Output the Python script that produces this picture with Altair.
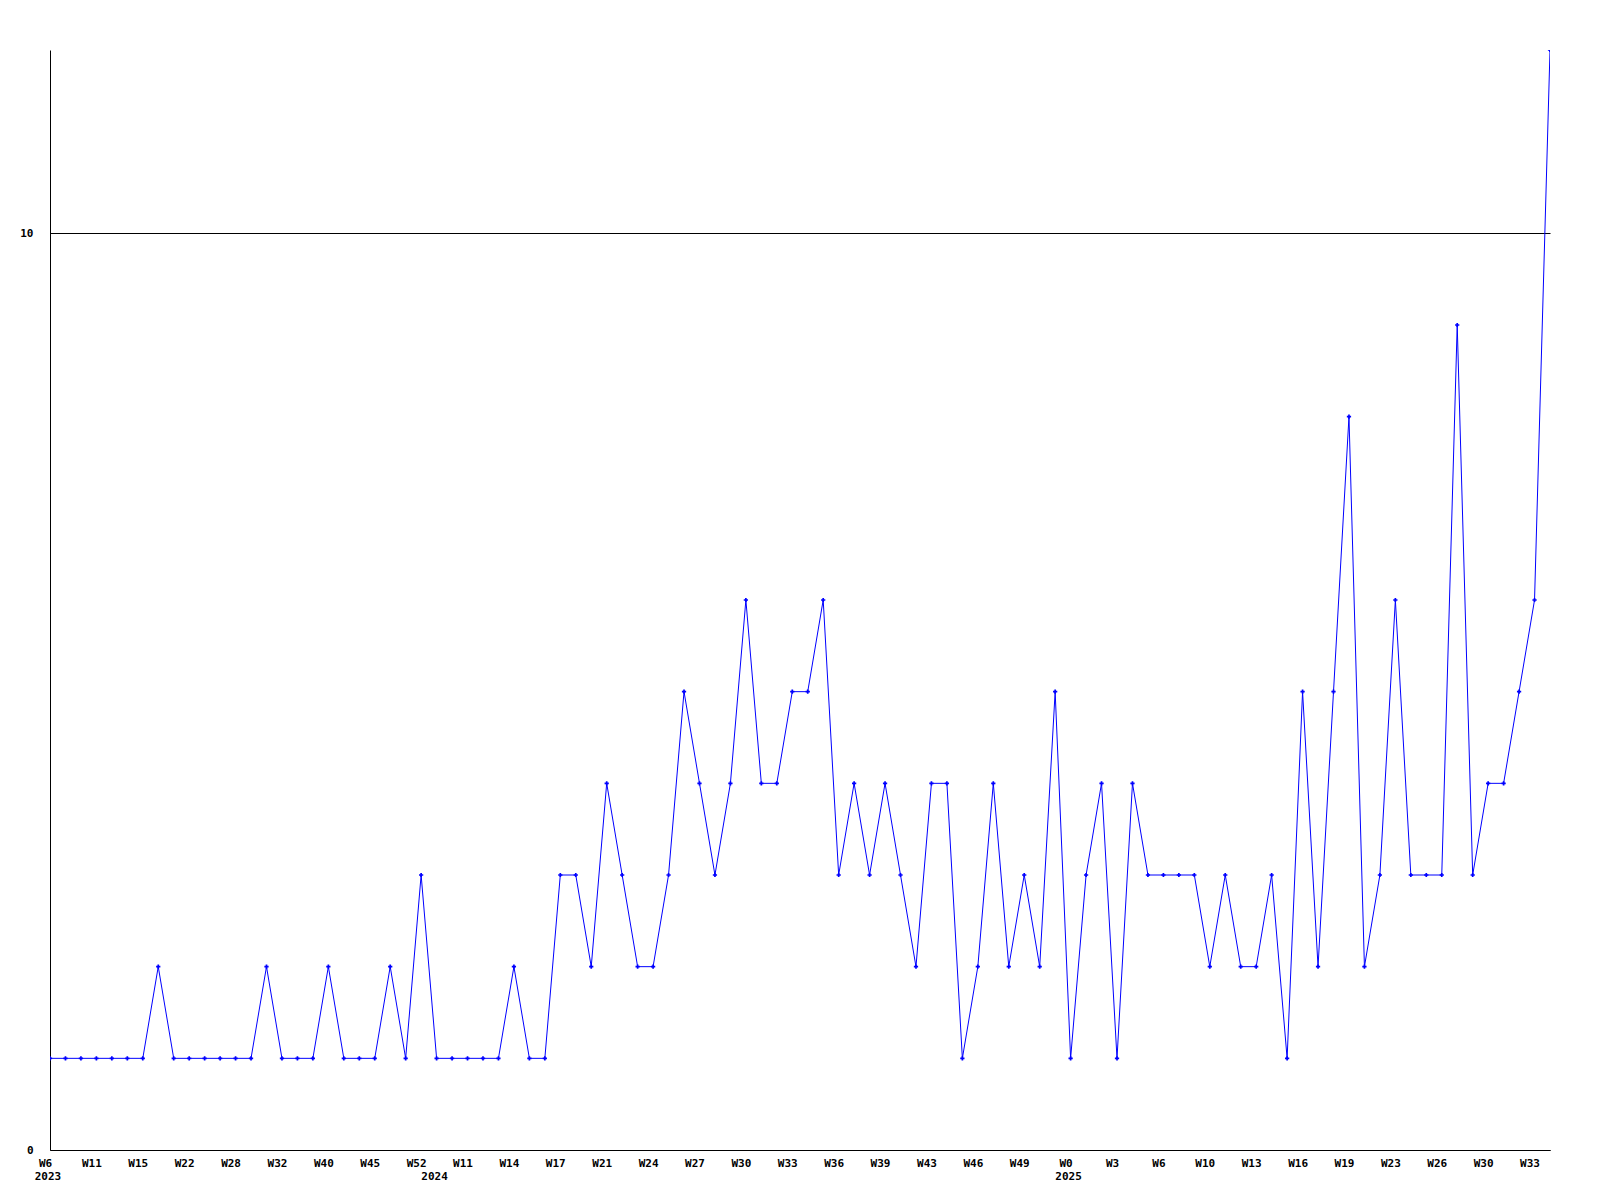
import altair as alt
import pandas as pd

values = [1, 1, 1, 1, 1, 1, 1, 2, 1, 1, 1, 1, 1, 1, 2, 1, 1, 1, 2, 1,
          1, 1, 2, 1, 3, 1, 1, 1, 1, 1, 2, 1, 1, 3, 3, 2, 4, 3, 2, 2,
          3, 5, 4, 3, 4, 6, 4, 4, 5, 5, 6, 3, 4, 3, 4, 3, 2, 4, 4, 1,
          2, 4, 2, 3, 2, 5, 1, 3, 4, 1, 4, 3, 3, 3, 3, 2, 3, 2, 2, 3,
          1, 5, 2, 5, 8, 2, 3, 6, 3, 3, 3, 9, 3, 4, 4, 5, 6, 12]

week_labels = ["W6", "W11", "W15", "W22", "W28", "W32", "W40", "W45", "W52",
               "W11", "W14", "W17", "W21", "W24", "W27", "W30", "W33", "W36",
               "W39", "W43", "W46", "W49", "W0", "W3", "W6", "W10", "W13",
               "W16", "W19", "W23", "W26", "W30", "W33"]
label_step = 3

year_labels = ["2023", "2024", "2025"]
year_index = [0, 25, 66]

W, H = 1500, 1100

df = pd.DataFrame({"i": list(range(len(values))), "v": values})
years = pd.DataFrame({"i": year_index, "t": year_labels})

tick_vals = [k * label_step for k in range(len(week_labels))]
lab_map = "{" + ",".join(f"'{t}':'{l}'" for t, l in zip(tick_vals, week_labels)) + "}"

font = "DejaVu Sans Mono"

xscale = alt.Scale(domain=[0, len(values) - 1], nice=False, zero=False, padding=0)
yscale = alt.Scale(domain=[0, 12], nice=False)

base = alt.Chart(df).encode(
    x=alt.X("i:Q", scale=xscale,
            axis=alt.Axis(values=tick_vals, labelExpr=f"{lab_map}[''+datum.value]",
                          title=None, ticks=False, tickSize=0, grid=False,
                          labelPadding=7, labelOffset=-5, labelOverlap=False,
                          labelFlush=False, domainColor="black",
                          labelFont=font, labelFontWeight="bold", labelFontSize=11,
                          labelColor="black")),
    y=alt.Y("v:Q", scale=yscale,
            axis=alt.Axis(values=[0, 10], title=None, ticks=False, tickSize=0,
                          grid=True, gridColor="black", gridOpacity=1, gridWidth=1,
                          labelPadding=17, domainColor="black",
                          labelFont=font, labelFontWeight="bold", labelFontSize=11,
                          labelColor="black")),
)

line = base.mark_line(color="#0000ff", strokeWidth=1, clip=True)
pts = base.mark_point(shape="cross", filled=True, size=18, color="#0000ff",
                      opacity=1, clip=True)

yrs = alt.Chart(years).mark_text(
    font=font, fontWeight="bold", fontSize=11, color="black",
    align="center", baseline="middle", dx=-2
).encode(
    x=alt.X("i:Q", scale=xscale),
    y=alt.value(H + 27),
    text="t:N",
)

chart = alt.layer(line, pts, yrs).properties(
    width=W, height=H,
    autosize=alt.AutoSizeParams(type="none"),
    padding={"left": 42, "top": 42, "right": 42, "bottom": 42},
).configure(background="white").configure_view(stroke=None, strokeWidth=0)

chart.save("out.html", embed_options={"renderer": "svg", "actions": False})
